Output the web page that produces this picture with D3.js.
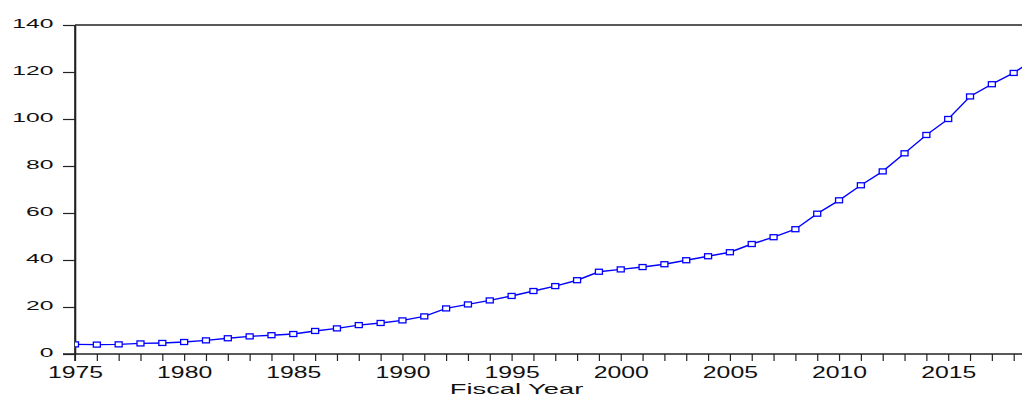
<!DOCTYPE html>
<html>
<head>
<meta charset="utf-8">
<script src="https://cdn.jsdelivr.net/npm/d3@7"></script>
<style>
html,body{margin:0;padding:0;background:#fff;overflow:hidden;}
svg{display:block;font-family:"Liberation Sans",Arial,sans-serif;}
</style>
</head>
<body>
<svg id="chart" width="1022" height="397"></svg>
<script>
const years = [1975,1976,1977,1978,1979,1980,1981,1982,1983,1984,1985,1986,1987,1988,1989,1990,1991,1992,1993,1994,1995,1996,1997,1998,1999,2000,2001,2002,2003,2004,2005,2006,2007,2008,2009,2010,2011,2012,2013,2014,2015,2016,2017,2018,2019];
const values = [4.1,4.0,4.1,4.5,4.7,5.1,5.8,6.7,7.5,8.0,8.5,9.8,10.9,12.3,13.2,14.3,16.0,19.4,21.1,22.8,24.7,26.8,28.9,31.4,35.0,36.0,37.0,38.2,39.9,41.6,43.3,46.8,49.7,53.1,59.7,65.4,71.8,77.7,85.4,93.2,100.0,109.6,114.8,119.6,125.9];
const yTicks = [0,20,40,60,80,100,120,140];
const xLabelYears = [1975,1980,1985,1990,1995,2000,2005,2010,2015];
const xTitle = "Fiscal Year";

(function () {
const svg = d3.select("#chart");
const mLeft = 75, mRight = 1022, mTop = 25, mBottom = 354;

const x = d3.scaleLinear().domain([1975, 1975 + (mRight - mLeft) / 21.83]).range([mLeft, mRight]);
const y = d3.scaleLinear().domain([0, 140]).range([mBottom, mTop]);

svg.append("defs").append("clipPath").attr("id","clip")
  .append("rect").attr("x", mLeft).attr("y", mTop - 10).attr("width", mRight - mLeft).attr("height", mBottom - mTop + 20);

// top frame line
svg.append("line").attr("x1", mLeft).attr("x2", mRight).attr("y1", y(140)).attr("y2", y(140))
  .attr("stroke", "#222").attr("stroke-width", 1.6);

// y axis
const yAxis = svg.append("g").attr("transform", `translate(${mLeft},0)`)
  .call(d3.axisLeft(y).tickValues(yTicks).tickSize(12).tickSizeOuter(0).tickFormat(d3.format("d")));
yAxis.select(".domain").attr("stroke", "#222").attr("stroke-width", 1.6);
yAxis.selectAll(".tick line").attr("stroke", "#222").attr("stroke-width", 1.2);
yAxis.selectAll(".tick text")
  .attr("x", 0).attr("dy", "0.36em")
  .attr("font-size", 13).attr("fill", "#111")
  .attr("transform", "translate(-21.5,-2.2) scale(1.9,1)");

// x axis
const allYears = d3.range(1975, 2019);
const xAxis = svg.append("g").attr("transform", `translate(0,${mBottom})`)
  .call(d3.axisBottom(x).tickValues(allYears).tickSize(7).tickSizeOuter(0)
    .tickFormat(d => xLabelYears.includes(d) ? String(d) : ""));
xAxis.select(".domain").attr("stroke", "#222").attr("stroke-width", 1.6)
  .attr("d", `M${mLeft - 12},0H${mRight}`);
xAxis.selectAll(".tick line").attr("stroke", "#222").attr("stroke-width", 1.2);
xAxis.selectAll(".tick text")
  .attr("y", 0).attr("dy", 0)
  .attr("font-size", 16).attr("fill", "#111")
  .attr("transform", "translate(0,23.5) scale(1.55,1)");

// left axis extension down to tick
svg.append("line").attr("x1", mLeft).attr("x2", mLeft).attr("y1", mTop).attr("y2", mBottom + 7)
  .attr("stroke", "#222").attr("stroke-width", 1.6);

// x title
svg.append("text")
  .attr("transform", `translate(${(448 + 585) / 2},394) scale(1.95,1)`)
  .attr("text-anchor", "middle").attr("font-size", 14).attr("fill", "#111")
  .text(xTitle);

// data
const data = years.map((yr, i) => ({yr, v: values[i]}));
const g = svg.append("g").attr("clip-path", "url(#clip)");
g.append("path").datum(data)
  .attr("fill", "none").attr("stroke", "#0000ff").attr("stroke-width", 1.4)
  .attr("d", d3.line().x(d => x(d.yr)).y(d => y(d.v)));
g.selectAll("rect.m").data(data).join("rect").attr("class", "m")
  .attr("x", d => x(d.yr) - 3.5).attr("y", d => y(d.v) - 2.5)
  .attr("width", 7).attr("height", 5)
  .attr("fill", "#fff").attr("stroke", "#0000ff").attr("stroke-width", 1.3);
})();
</script>
</body>
</html>
